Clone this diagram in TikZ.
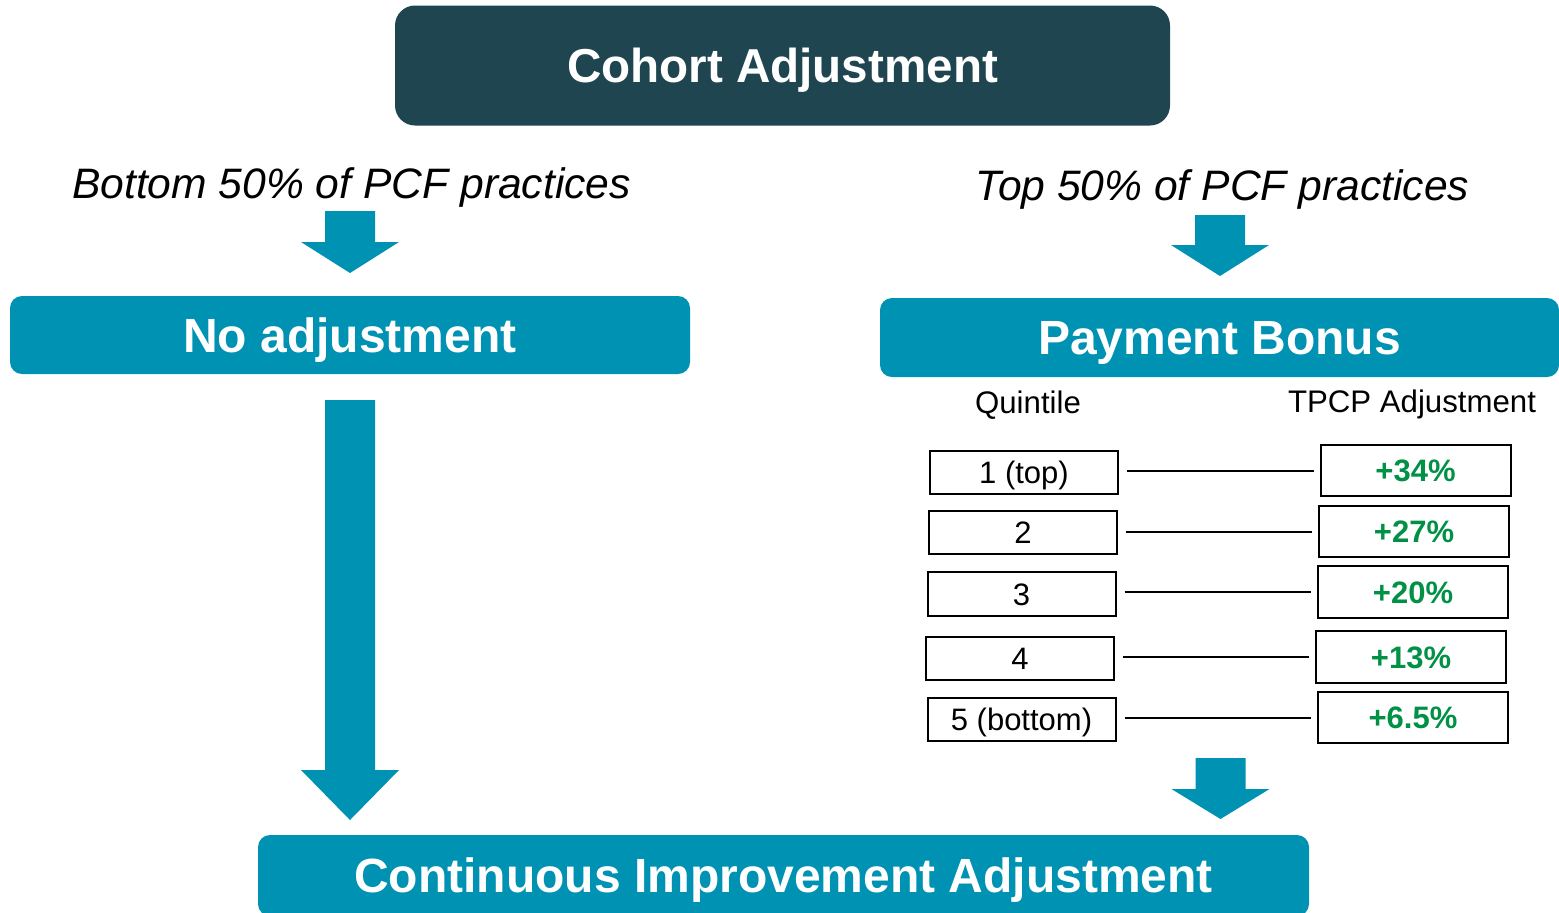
\documentclass[tikz,border=0pt]{standalone}
\usepackage{fontspec}
\setmainfont{Liberation Sans}
\definecolor{darkc}{RGB}{31,70,80}
\definecolor{tealc}{RGB}{0,146,178}
\definecolor{greenc}{RGB}{0,145,70}
\newcommand{\blockarr}[4]{% x-centre, shaft top, head top, tip
  \fill[arrowfill] (#1-25,#2) -- (#1+25,#2) -- (#1+25,#3) -- (#1+49,#3) -- (#1,#4) -- (#1-49,#3) -- (#1-25,#3) -- cycle;}
\begin{document}
\begin{tikzpicture}[x=0.5pt,y=-0.5pt,
  headbox/.style={fill=darkc, rounded corners=10pt, text=white, font=\fontsize{23.8}{28}\selectfont\bfseries, text height=17.3pt, text depth=0pt, inner sep=0pt},
  tealbox/.style={fill=tealc, rounded corners=6pt, text=white, font=\fontsize{24}{29}\selectfont\bfseries, text height=17.2pt, text depth=0pt, inner sep=0pt},
  qbox/.style={draw=black, line width=1pt, fill=white, font=\fontsize{15.5}{18}\selectfont, text height=11.1pt, text depth=0pt, inner sep=0pt, minimum width=94pt, minimum height=21.5pt},
  pbox/.style={qbox, font=\fontsize{15.5}{18}\selectfont\bfseries, text=greenc, minimum width=95pt, minimum height=25.5pt},
  link/.style={line width=1pt, shorten <=4pt, shorten >=3pt},
  arrowfill/.style={fill=tealc},
  caption/.style={font=\fontsize{21.3}{25}\selectfont\itshape, anchor=base, inner sep=0pt},
  colhead/.style={font=\fontsize{15.6}{18}\selectfont, anchor=base, inner sep=0pt}]
\clip (0,0) rectangle (1559,912);
\fill[white] (0,0) rectangle (1559,912);

% main boxes
\node[headbox, minimum width=387.5pt, minimum height=60pt] (cohort) at (782.5,65.5) {Cohort Adjustment};
\node[tealbox, minimum width=340pt, minimum height=39pt] (noadj) at (350,335) {No adjustment};
\node[tealbox, minimum width=339.5pt, minimum height=39.5pt] (bonus) at (1219.5,337.5) {Payment Bonus};
\node[tealbox, minimum width=525.5pt, minimum height=40.5pt] (cia) at (783.5,875.5) {Continuous Improvement Adjustment};

% captions
\node[caption] (bot) at (351.5,198) {Bottom 50\% of PCF practices};
\node[caption] (top) at (1222.5,200) {Top 50\% of PCF practices};

% block arrows
\blockarr{350}{211}{242}{273}
\blockarr{1220}{215}{245}{276}
\blockarr{350}{400}{770}{820}
\blockarr{1220.5}{758}{789}{819}

% column headers
\node[colhead] (qh) at (1028,413) {Quintile};
\node[colhead] (th) at (1412,412) {TPCP Adjustment};

% quintile boxes
\node[qbox] (q1) at (1024,472.5) {1 (top)};
\node[qbox] (q2) at (1023,532.5) {2};
\node[qbox, minimum height=22pt] (q3) at (1021.5,594) {3};
\node[qbox] (q4) at (1020,658.5) {4};
\node[qbox] (q5) at (1021.5,719.5) {5 (bottom)};

% adjustment boxes
\node[pbox] (p1) at (1415.5,470.5) {+34\%};
\node[pbox] (p2) at (1414,531.5) {+27\%};
\node[pbox, minimum height=26pt] (p3) at (1413,592) {+20\%};
\node[pbox, minimum height=26pt] (p4) at (1411,657) {+13\%};
\node[pbox] (p5) at (1413,717.5) {+6.5\%};

% links
\draw[link] (q1.east |- p1.west) -- (p1.west);
\draw[link] (q2.east |- p2.west) -- (p2.west);
\draw[link] (q3.east |- p3.west) -- (p3.west);
\draw[link] (q4.east |- p4.west) -- (p4.west);
\draw[link] (q5.east |- p5.west) -- (p5.west);
\end{tikzpicture}
\end{document}
